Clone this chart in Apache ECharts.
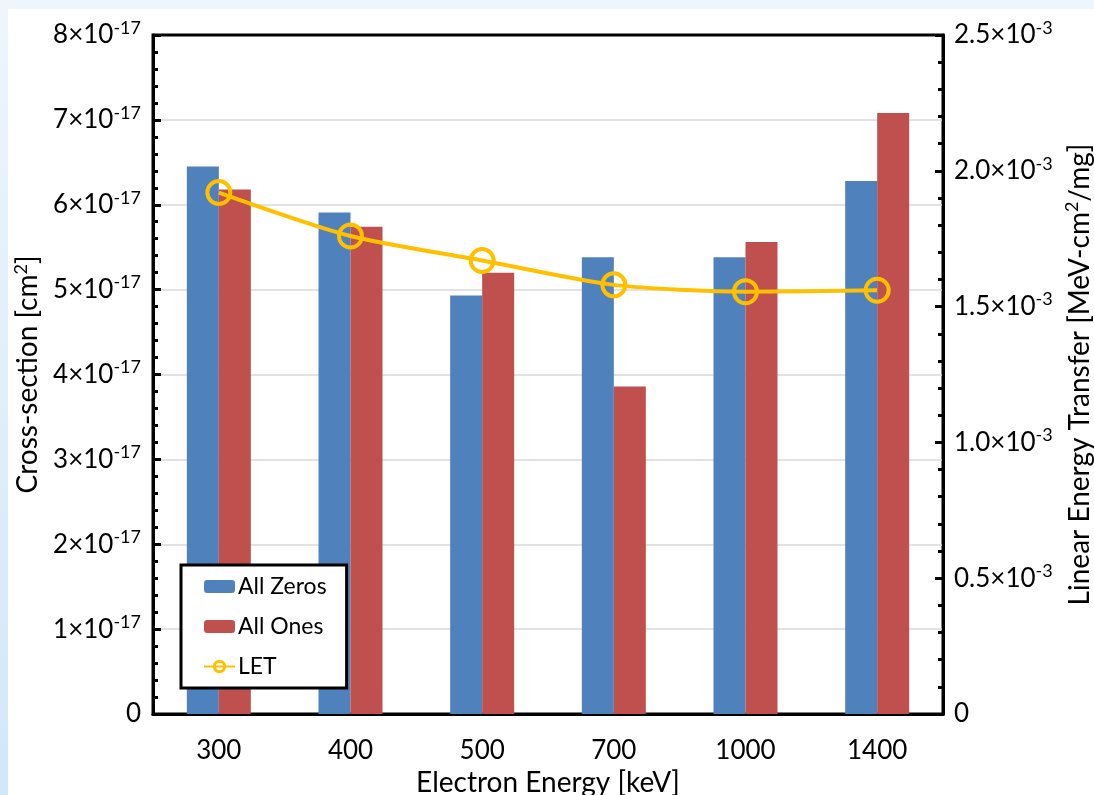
<!DOCTYPE html>
<html>
<head>
<meta charset="utf-8">
<script src="https://cdn.jsdelivr.net/npm/echarts@6/dist/echarts.min.js"></script>
<style>
    html, body {margin: 0; padding: 0;}
    body {width: 1094px; height: 795px; background: linear-gradient(to bottom, #EEF5FD, #D3E6FA); position: relative; overflow: hidden;}
    #panel {position: absolute; left: 8px; top: 9px; right: 0; bottom: 0; background: #fff;}
    #main {position: absolute; left: 0; top: 0; width: 1094px; height: 795px;}
</style>
</head>
<body>
<div id="panel"></div>
<div id="main"></div>
<script>
// 横轴能量档位 (keV)
let energies = ['300', '400', '500', '700', '1000', '1400'];
// 截面 cm^2
let allZeros = [6.45e-17, 5.91e-17, 4.93e-17, 5.38e-17, 5.38e-17, 6.28e-17];
let allOnes = [6.18e-17, 5.74e-17, 5.20e-17, 3.86e-17, 5.56e-17, 7.08e-17];
// LET  MeV-cm^2/mg
let letValues = [1.92e-3, 1.76e-3, 1.67e-3, 1.58e-3, 1.555e-3, 1.56e-3];

let font = 'Lato';

function leftLabel(v) {
    if (v === 0) return '{a|0}';
    return '{a|' + Math.round(v / 1e-17) + '×10}{s|-17}';
}

function rightLabel(v) {
    if (v === 0) return '{a|0}';
    return '{a|' + (v / 1e-3).toFixed(1) + '×10}{s|-3}';
}

let labelRich = {
    a: {fontSize: 26, fontFamily: font, color: '#000'},
    s: {fontSize: 18, fontFamily: font, color: '#000', padding: [0, 0, 14, 0]}
};

let nameRich = {
    a: {fontSize: 28, fontFamily: font, color: '#000'},
    s: {fontSize: 18, fontFamily: font, color: '#000', padding: [0, 0, 14, 0]}
};

let myChart = echarts.init(document.getElementById('main'));
let option = {
    backgroundColor: 'transparent',
    animation: false,
    textStyle: {fontFamily: font},
    grid: {
        left: 153, right: 151, top: 35, bottom: 81,
        outerBoundsMode: 'none',
        containLabel: false,
        show: true, borderColor: '#000', borderWidth: 3
    },
    legend: {
        orient: 'vertical',
        left: 181, top: 565,
        backgroundColor: '#fff',
        borderColor: '#000', borderWidth: 3,
        padding: [10, 20, 10, 22],
        itemWidth: 31, itemHeight: 13,
        itemGap: 17,
        textStyle: {fontSize: 23, color: '#000', fontFamily: font, padding: [0, 0, 0, -2]},
        data: ['All Zeros', 'All Ones', {name: 'LET', itemStyle: {borderWidth: 3}}]
    },
    xAxis: {
        type: 'category',
        data: energies,
        name: 'Electron Energy [keV]',
        nameLocation: 'middle',
        nameGap: 49,
        nameTextStyle: {fontSize: 28, color: '#000', fontFamily: font},
        axisLine: {lineStyle: {color: '#000', width: 3}},
        axisTick: {inside: true, length: 8, lineStyle: {color: '#000', width: 3}},
        axisLabel: {fontSize: 26, color: '#000', margin: 24, fontFamily: font}
    },
    yAxis: [{
        type: 'value',
        min: 0, max: 8e-17, interval: 1e-17,
        name: '{a|Cross-section [cm}{s|2}{a|]}',
        nameLocation: 'middle',
        nameRotate: 90,
        nameGap: 98,
        nameTextStyle: {rich: nameRich},
        axisLine: {show: true, lineStyle: {color: '#000', width: 3}},
        axisTick: {show: true, inside: true, length: 8, lineStyle: {color: '#000', width: 3}},
        minorTick: {show: true, splitNumber: 5, length: 5, lineStyle: {color: '#000', width: 3}},
        splitLine: {show: true, showMinLine: false, showMaxLine: false, lineStyle: {color: '#D9D9D9', width: 1.5}},
        axisLabel: {formatter: leftLabel, rich: labelRich, margin: 12}
    }, {
        type: 'value',
        min: 0, max: 2.5e-3, interval: 0.5e-3,
        position: 'right',
        name: '{a|Linear Energy Transfer [MeV-cm}{s|2}{a|/mg]}',
        nameLocation: 'middle',
        nameRotate: 90,
        nameGap: 115,
        nameTextStyle: {rich: nameRich},
        axisLine: {show: true, lineStyle: {color: '#000', width: 3}},
        axisTick: {show: true, inside: true, length: 8, lineStyle: {color: '#000', width: 3}},
        minorTick: {show: true, splitNumber: 5, length: 5, lineStyle: {color: '#000', width: 3}},
        splitLine: {show: false},
        axisLabel: {formatter: rightLabel, rich: labelRich, margin: 11}
    }],
    series: [{
        name: 'All Zeros',
        type: 'bar',
        data: allZeros,
        barWidth: 32,
        barGap: '0%',
        itemStyle: {color: '#4F81BD'}
    }, {
        name: 'All Ones',
        type: 'bar',
        data: allOnes,
        barWidth: 32,
        barGap: '0%',
        itemStyle: {color: '#C0504D'}
    }, {
        name: 'LET',
        type: 'line',
        yAxisIndex: 1,
        data: letValues,
        smooth: 0.25,
        symbol: 'circle',
        symbolSize: 23,
        lineStyle: {color: '#FFC000', width: 4},
        itemStyle: {color: 'transparent', borderColor: '#FFC000', borderWidth: 4},
        z: 5
    }]
};
myChart.setOption(option);
</script>
</body>
</html>
